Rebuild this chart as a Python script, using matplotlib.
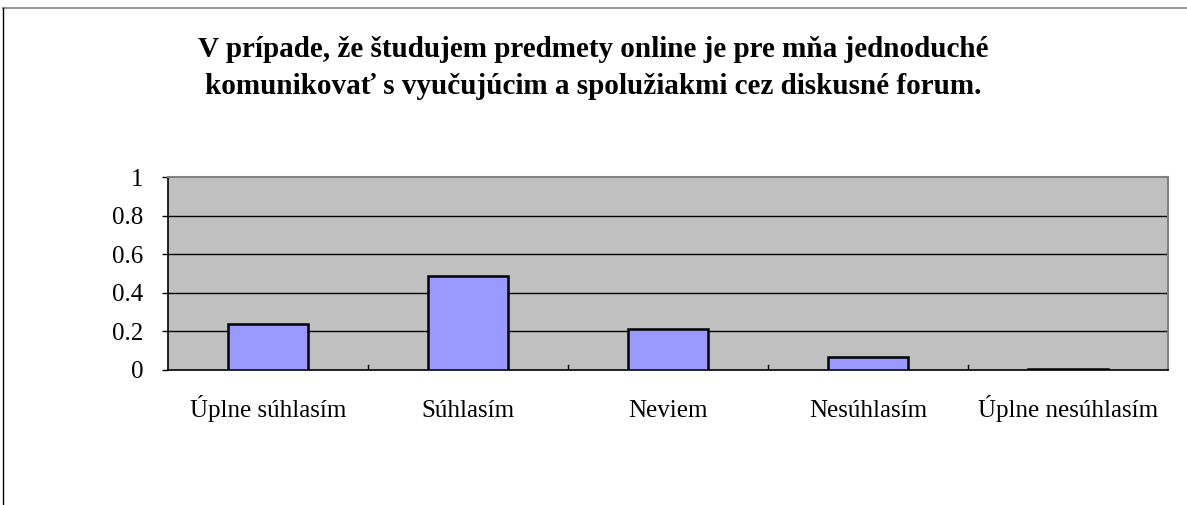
import numpy as np
import matplotlib
matplotlib.use("Agg")
import matplotlib.pyplot as plt
from matplotlib.lines import Line2D

# answer categories and share of respondents
categories = ["Úplne súhlasím", "Súhlasím", "Neviem", "Nesúhlasím", "Úplne nesúhlasím"]
shares = [0.238, 0.488, 0.215, 0.066, 0.004]
y_ticks = [0, 0.2, 0.4, 0.6, 0.8, 1]
y_tick_labels = ["0", "0.2", "0.4", "0.6", "0.8", "1"]

title = ("V prípade, že študujem predmety online je pre mňa jednoduché\n"
         "komunikovať s vyučujúcim a spolužiakmi cez diskusné forum.")

plt.rcParams['font.family'] = ['Liberation Serif', 'DejaVu Serif']

fig = plt.figure(figsize=(11.87, 5.05), dpi=100)
# plot area in pixels: x 168..1168, y 177..370
ax = fig.add_axes([168 / 1187, 1 - 370 / 505, 1000 / 1187, 193 / 505])
ax.set_facecolor("#C0C0C0")

x = np.arange(len(categories))
ax.bar(x, shares, width=0.4, color="#9999FF", edgecolor="black", linewidth=1.8, zorder=3)

ax.set_xlim(-0.5, len(categories) - 0.5)
ax.set_ylim(0, 1)

# horizontal gridlines
for v in y_ticks[1:-1]:
    ax.axhline(v, color="black", linewidth=1.0, zorder=1)

ax.set_yticks(y_ticks)
ax.set_yticklabels(y_tick_labels, fontsize=18)
ax.tick_params(axis="y", direction="out", length=4, width=1, pad=14, colors="black")

# category labels placed on a common baseline, ticks between categories
ax.set_xticks([])
for i, name in enumerate(categories):
    ax.annotate(name, xy=(x[i], 0), xycoords=("data", "axes fraction"),
                xytext=(0, -34), textcoords="offset points",
                ha="center", va="baseline", fontsize=18)
for b in np.arange(0.5, len(categories) - 1, 1.0):
    ax.plot([b, b], [0, 0.025], color="black", linewidth=1, zorder=2)

ax.spines["left"].set_color("black")
ax.spines["bottom"].set_color("black")
ax.spines["left"].set_linewidth(1.2)
ax.spines["bottom"].set_linewidth(1.2)
ax.spines["top"].set_color("#808080")
ax.spines["right"].set_color("#808080")
ax.spines["top"].set_linewidth(1.5)
ax.spines["right"].set_linewidth(1.5)

fig.text(593 / 1187, 1 - 68 / 505, title, ha="center", va="center",
         fontsize=21, fontweight="bold", linespacing=1.5)

# chart area border (top and left visible)
fig.add_artist(Line2D([3 / 1187, 1], [1 - 8 / 505, 1 - 8 / 505],
                      transform=fig.transFigure, color="#808080", linewidth=1.2))
fig.add_artist(Line2D([3 / 1187, 3 / 1187], [0, 1 - 8 / 505],
                      transform=fig.transFigure, color="black", linewidth=1.0))

fig.savefig("out.png", dpi=100)
